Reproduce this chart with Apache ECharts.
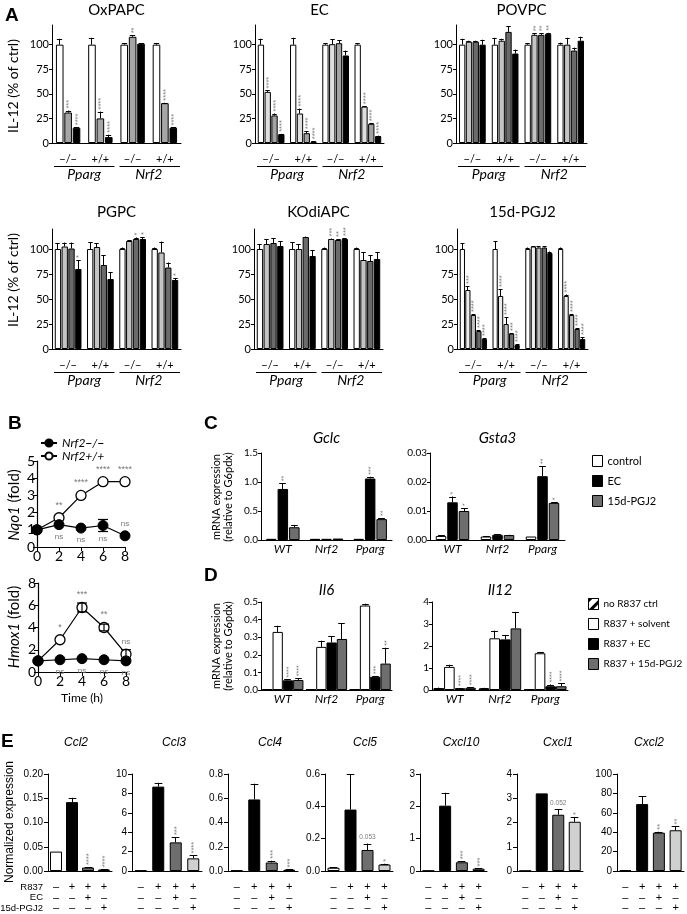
<!DOCTYPE html>
<html><head><meta charset="utf-8">
<script src="https://cdn.jsdelivr.net/npm/echarts@6/dist/echarts.min.js"></script>
<style>html,body{margin:0;padding:0;background:#fff}#c{width:687px;height:914px}</style>
</head><body><div id="c"></div>
<script>
// ================= DATA =================
// ---- Panel A (IL-12, % of ctrl) ----
const aGroups = ['−/−', '+/+', '−/−', '+/+'];
const aGenes = ['Pparg', 'Nrf2'];
const aTicks = [0, 25, 50, 75, 100];

const oxpapcValues = [[100, 100, 100, 100], [31, 25, 108, 40.5], [15.5, 6, 101, 15.5]];
const oxpapcErrors = [[6, 7, 1.5, 1.5], [2, 7, 1.5, 0.5], [0.5, 2.5, 0.5, 0.3]];
const oxpapcStars = [['', '', '', ''], ['***', '****', '**', '****'], ['****', '****', '', '****']];

const ecValues = [[100, 100, 100, 100], [52, 30, 100.5, 37], [28, 10, 101.5, 19.5], [9, 1.5, 89, 7]];
const ecErrors = [[6, 7, 1.5, 1.5], [1.5, 5, 5, 0.5], [2, 2, 3, 0.5], [0.3, 0.3, 5, 0.5]];
const ecStars = [['', '', '', ''], ['****', '****', '', '****'], ['****', '****', '', '****'], ['****', '****', '', '****']];

const povpcValues = [[100, 100, 100, 100], [103, 104, 110, 100], [103, 113, 110, 94], [100, 91, 111, 104]];
const povpcErrors = [[6, 7, 1.5, 2], [1, 2, 1.5, 7], [1, 6, 1.5, 3], [5, 4, 1, 4]];
const povpcStars = [['', '', '', ''], ['', '', '**', ''], ['', '', '**', ''], ['', '', '**', '']];

const pgpcValues = [[100, 100, 100, 100], [102.5, 102, 108, 96.5], [100.5, 84, 110, 81.5], [80, 70, 110, 69]];
const pgpcErrors = [[6, 7, 1.5, 1.5], [4, 4, 1, 11], [6, 10, 1.5, 5], [9, 7, 2, 2]];
const pgpcStars = [['', '', '', ''], ['', '', '', ''], ['', '', '*', ''], ['*', '', '*', '*']];

const kodiValues = [[100, 100, 100, 100], [105, 100, 110, 89], [106, 112, 109, 88], [103, 93, 110, 90]];
const kodiErrors = [[5, 7, 1.5, 1.5], [5, 5, 0.5, 8], [5, 0.5, 1, 6], [5, 6, 1, 7]];
const kodiStars = [['', '', '', ''], ['', '', '***', ''], ['', '', '**', ''], ['', '', '***', '']];

const pgj2Values = [[100, 100, 100, 100], [59, 53, 102.5, 53], [34, 25, 101.5, 34], [18, 15.5, 101.5, 20], [10, 4, 96, 10]];
const pgj2Errors = [[6, 8, 1.5, 1.5], [4, 7, 0.5, 1.5], [1, 7, 1.5, 1], [1, 0.5, 1.5, 1], [1, 1, 1.5, 2]];
const pgj2Stars = [['', '', '', ''], ['***', '****', '', '****'], ['****', '****', '', '****'], ['****', '***', '', '****'], ['****', '****', '', '****']];

// ---- Panel B (time course, fold) ----
const bTime = [0, 2, 4, 6, 8];
const nqo1KO = [1, 1.3, 1.1, 1.25, 0.65];
const nqo1KOErr = [0, 0, 0, 0.35, 0];
const nqo1WT = [1, 1.7, 3.0, 3.8, 3.8];
const nqo1WTErr = [0, 0, 0, 0, 0];
const nqo1WTStats = ['', '**', '****', '****', '****'];
const nqo1KOStats = ['', 'ns', 'ns', 'ns', 'ns'];
const hmox1KO = [1, 1.1, 1.2, 1.1, 1.0];
const hmox1KOErr = [0, 0, 0, 0, 0];
const hmox1WT = [1, 2.9, 5.8, 4.0, 1.6];
const hmox1WTErr = [0, 0, 0.4, 0.3, 0.4];
const hmox1WTStats = ['', '*', '***', '**', 'ns'];
const hmox1KOStats = ['', 'ns', 'ns', 'ns', 'ns'];

// ---- Panel C ----
const cGroups = ['WT', 'Nrf2', 'Pparg'];
const cNames = ['control', 'EC', '15d-PGJ2'];
const gclcValues = [[0.02, 0.02, 0.02], [0.88, 0.02, 1.06], [0.22, 0.025, 0.36]];
const gclcErrors = [[0, 0, 0], [0.1, 0, 0.03], [0.04, 0, 0.02]];
const gclcStars = [['', '', ''], ['**', '', '***'], ['', '', '**']];
const gsta3Values = [[0.0014, 0.0012, 0.0012], [0.013, 0.0018, 0.022], [0.010, 0.0017, 0.0128]];
const gsta3Errors = [[0.0002, 0.0002, 0], [0.002, 0.0001, 0.0035], [0.001, 0.0001, 0.0002]];
const gsta3Stars = [['', '', ''], ['*', '', '**'], ['*', '', '*']];

// ---- Panel D ----
const dNames = ['no R837 ctrl', 'R837 + solvent', 'R837 + EC', 'R837 + 15d-PGJ2'];
const il6Values = [[0.002, 0.002, 0.002], [0.33, 0.245, 0.48], [0.055, 0.27, 0.075], [0.057, 0.29, 0.15]];
const il6Errors = [[0, 0, 0], [0.035, 0.035, 0.01], [0.005, 0.035, 0.005], [0.01, 0.09, 0.09]];
const il6Stars = [['', '', ''], ['', '', ''], ['****', '', '***'], ['****', '', '**']];
const il12Values = [[0.08, 0.07, 0.03], [1.05, 2.35, 1.67], [0.08, 2.3, 0.17], [0.1, 2.8, 0.17]];
const il12Errors = [[0.03, 0.03, 0], [0.1, 0.35, 0.05], [0.01, 0.2, 0.08], [0.03, 0.75, 0.13]];
const il12Stars = [['', '', ''], ['', '', ''], ['****', '', '****'], ['****', '', '****']];

// ---- Panel E ----
const eR837 = ['–', '+', '+', '+'];
const eEC = ['–', '–', '+', '–'];
const ePGJ2 = ['–', '–', '–', '+'];
const eRowLabels = ['R837', 'EC', '15d-PGJ2'];
const ccl2 = [0.04, 0.142, 0.007, 0.003], ccl2Err = [0, 0.009, 0.001, 0.0005], ccl2Stars = ['', '', '****', '****'];
const ccl3 = [0.05, 8.7, 2.95, 1.3], ccl3Err = [0, 0.4, 0.55, 0.3], ccl3Stars = ['', '', '***', '****'];
const ccl4 = [0.005, 0.59, 0.07, 0.01], ccl4Err = [0, 0.13, 0.015, 0.003], ccl4Stars = ['', '', '***', '***'];
const ccl5 = [0.02, 0.38, 0.13, 0.04], ccl5Err = [0.002, 0.22, 0.04, 0.005], ccl5Stars = ['', '', '0.053', '*'];
const cxcl10 = [0.01, 2.02, 0.27, 0.07], cxcl10Err = [0, 0.4, 0.03, 0.01], cxcl10Stars = ['', '', '***', '***'];
const cxcl1 = [0.01, 3.2, 2.32, 2.03], cxcl1Err = [0, 0, 0.22, 0.2], cxcl1Stars = ['', '', '0.052', '*'];
const cxcl2 = [1, 69, 39.5, 42], cxcl2Err = [0, 8, 1, 4], cxcl2Stars = ['', '', '**', '**'];

// ================= BUILD =================
const FONT = 'Lato, "Liberation Sans", Arial, sans-serif';
const EFONT = '"Liberation Sans", Arial, sans-serif';
const grids = [], xAxes = [], yAxes = [], series = [], graphics = [], legends = [];

function gtext(x, y, text, o) {
  o = o || {};
  const st = {
    text: text, fill: o.color || '#000', fontSize: o.size || 12, fontFamily: o.family || FONT,
    fontStyle: o.style || 'normal', fontWeight: o.weight || 'normal',
    textAlign: o.align || 'center', textVerticalAlign: o.valign || 'middle',
    align: o.align || 'center', verticalAlign: o.valign || 'middle'
  };
  if (o.rich) st.rich = o.rich;
  if (o.lineHeight) st.lineHeight = o.lineHeight;
  return { type: 'text', x: x, y: y, rotation: o.rot || 0, silent: true, style: st };
}
function gline(x1, y1, x2, y2) {
  return { type: 'line', silent: true, shape: { x1: x1, y1: y1, x2: x2, y2: y2 }, style: { stroke: '#000', lineWidth: 1 } };
}

function errSeries(xi, yi, values, errors, stars, bw, gap, starSize, capRatio) {
  const n = values.length, items = [], data = [];
  values.forEach((vals, s) => vals.forEach((v, c) => {
    const e = errors && errors[s] ? errors[s][c] : 0;
    const st = stars && stars[s] ? stars[s][c] : '';
    if (!e && !st) return;
    items.push({ s, c, v, e, st });
    data.push([c, v + e]);
  }));
  const total = n * bw + (n - 1) * gap;
  return {
    type: 'custom', xAxisIndex: xi, yAxisIndex: yi, data: data, silent: true, z: 5, clip: false,
    renderItem: function (params, api) {
      const it = items[params.dataIndex];
      const p0 = api.coord([it.c, 0]);
      const cx0 = p0[0] - total / 2 + it.s * (bw + gap) + bw / 2;
      const cx = Math.round(cx0 - 0.5) + 0.5;
      const yv = api.coord([it.c, it.v])[1];
      const ye = api.coord([it.c, it.v + it.e])[1];
      const ch = [];
      if (it.e > 0) {
        const hw = Math.max(2, bw * capRatio);
        ch.push({ type: 'line', shape: { x1: cx, y1: yv, x2: cx, y2: ye }, style: { stroke: '#000', lineWidth: 1 } });
        ch.push({ type: 'line', shape: { x1: cx - hw, y1: Math.round(ye) + 0.5, x2: cx + hw, y2: Math.round(ye) + 0.5 }, style: { stroke: '#000', lineWidth: 1 } });
      }
      if (it.st) {
        if (/^\*+$/.test(it.st)) {
          ch.push({ type: 'text', x: cx0 + 1, y: ye - 2, rotation: Math.PI / 2,
            style: { text: it.st, x: 0, y: 0, textAlign: 'left', textVerticalAlign: 'middle', align: 'left', verticalAlign: 'middle', fill: '#7a7a7a', fontSize: starSize, fontFamily: EFONT } });
        } else {
          ch.push({ type: 'text', x: cx0, y: ye - 3,
            style: { text: it.st, x: 0, y: 0, textAlign: 'center', textVerticalAlign: 'bottom', align: 'center', verticalAlign: 'bottom', fill: '#7a7a7a', fontSize: 6.5, fontFamily: EFONT } });
        }
      }
      return { type: 'group', children: ch };
    }
  };
}

function addBars(cfg) {
  const r = cfg.rect;
  const gi = grids.push({ left: r[0], top: r[1], width: r[2], height: r[3] }) - 1;
  const xi = xAxes.push({
    type: 'category', gridIndex: gi, data: cfg.cats,
    axisLine: { lineStyle: { color: '#000', width: 1 } }, axisTick: { show: false },
    axisLabel: Object.assign({ color: '#000', interval: 0 }, cfg.xLabel)
  }) - 1;
  const yAxis = {
    type: 'value', gridIndex: gi, min: 0, max: cfg.yMax, splitLine: { show: false },
    axisLine: { show: true, lineStyle: { color: '#000', width: 1 } },
    axisTick: { show: true, length: cfg.tickLen || 3, lineStyle: { color: '#000' } },
    axisLabel: Object.assign({ color: '#000' }, cfg.yLabel)
  };
  if (cfg.yTicks) { yAxis.axisTick.customValues = cfg.yTicks; yAxis.axisLabel.customValues = cfg.yTicks; }
  else yAxis.interval = cfg.yInterval;
  if (cfg.yFmt) yAxis.axisLabel.formatter = cfg.yFmt;
  const yi = yAxes.push(yAxis) - 1;
  cfg.values.forEach((vals, s) => {
    const item = { color: cfg.colors[s], borderColor: '#000', borderWidth: 1 };
    if (cfg.decals && cfg.decals[s]) item.decal = cfg.decals[s];
    const data = cfg.itemColors
      ? vals.map((v, i) => ({ value: v, itemStyle: { color: cfg.itemColors[i] } }))
      : vals.slice();
    series.push({
      type: 'bar', name: cfg.names ? cfg.names[s] : ('bar' + gi + '_' + s), xAxisIndex: xi, yAxisIndex: yi,
      data: data, barWidth: cfg.bw, barGap: (cfg.gap / cfg.bw * 100).toFixed(1) + '%', itemStyle: item, silent: true
    });
  });
  series.push(errSeries(xi, yi, cfg.values, cfg.errors, cfg.stars, cfg.bw, cfg.gap, cfg.starSize || 8, cfg.capRatio || 0.32));
  if (cfg.title) graphics.push(gtext(cfg.titleX != null ? cfg.titleX : r[0] + r[2] / 2, cfg.titleY, cfg.title, cfg.titleStyle));
  return { gi, xi, yi };
}

// ---------- Panel A ----------
const AYL = { fontSize: 11, fontFamily: FONT, margin: 3 };
const AXL = { fontSize: 11, fontFamily: FONT, margin: 11 };
function panelA(rect, title, titleY, values, errors, stars, colors, bw, gap) {
  const res = addBars({
    rect, cats: aGroups, values, errors, stars, colors, bw, gap, yMax: 120, yTicks: aTicks,
    yLabel: AYL, xLabel: AXL, tickLen: 3, starSize: 7.5, capRatio: 0.35,
    title, titleY, titleStyle: { size: 15 }
  });
  xAxes.push({
    type: 'category', gridIndex: res.gi, data: aGenes, position: 'bottom', offset: 22,
    axisLine: { show: false }, axisTick: { show: false },
    axisLabel: { color: '#000', fontSize: 14, fontStyle: 'italic', fontFamily: FONT, margin: 2, interval: 0 }
  });
  const axisY = rect[1] + rect[3] + 23.5;
  const mid = rect[0] + rect[2] / 2;
  graphics.push(gline(rect[0] + 2, axisY, mid - 2, axisY));
  graphics.push(gline(mid + 3, axisY, rect[0] + rect[2] - 1, axisY));
}
const c3 = ['#ffffff', '#a6a6a6', '#000000'];
const cEC = ['#ffffff', '#dedede', '#a3a3a3', '#000000'];
const c4 = ['#ffffff', '#c4c4c4', '#6b6b6b', '#000000'];
const c5 = ['#ffffff', '#ededed', '#bdbdbd', '#6b6b6b', '#000000'];

panelA([52, 25, 129, 118], 'OxPAPC', 10, oxpapcValues, oxpapcErrors, oxpapcStars, c3, 7.6, 0.8);
panelA([255, 25, 129, 118], 'EC', 10, ecValues, ecErrors, ecStars, cEC, 6.3, 0.5);
panelA([456, 25, 131, 118], 'POVPC', 10, povpcValues, povpcErrors, povpcStars, c4, 6.3, 0.5);
panelA([52, 229, 129, 120], 'PGPC', 212, pgpcValues, pgpcErrors, pgpcStars, c4, 6.3, 0.5);
panelA([254, 229, 129, 120], 'KOdiAPC', 212, kodiValues, kodiErrors, kodiStars, c4, 6.3, 0.5);
panelA([457, 229, 131, 120], '15d-PGJ2', 212, pgj2Values, pgj2Errors, pgj2Stars, c5, 5.2, 0.3);

graphics.push(gtext(13, 86, 'IL-12 (% of ctrl)', { size: 14, rot: Math.PI / 2 }));
graphics.push(gtext(13, 280, 'IL-12 (% of ctrl)', { size: 14, rot: Math.PI / 2 }));

// ---------- Panel B ----------
function panelB(rect, yMax, yInt, ko, koErr, wt, wtErr, wtStats, koStats, koPlace) {
  const gi = grids.push({ left: rect[0], top: rect[1], width: rect[2], height: rect[3] }) - 1;
  const xi = xAxes.push({
    type: 'value', gridIndex: gi, min: 0, max: 8, interval: 2, splitLine: { show: false },
    axisLine: { lineStyle: { color: '#000', width: 1.2 } }, axisTick: { length: 4, lineStyle: { color: '#000' } },
    axisLabel: { color: '#000', fontSize: 14, fontFamily: FONT, margin: 2 }
  }) - 1;
  const yi = yAxes.push({
    type: 'value', gridIndex: gi, min: 0, max: yMax, interval: yInt, splitLine: { show: false },
    axisLine: { show: true, lineStyle: { color: '#000', width: 1.2 } }, axisTick: { length: 4, lineStyle: { color: '#000' } },
    axisLabel: { color: '#000', fontSize: 14, fontFamily: FONT, margin: 2 }
  }) - 1;
  series.push({
    type: 'line', name: 'Nrf2+/+', xAxisIndex: xi, yAxisIndex: yi, data: bTime.map((t, i) => [t, wt[i]]),
    symbol: 'circle', symbolSize: 10, itemStyle: { color: '#fff', borderColor: '#000', borderWidth: 1.3 },
    lineStyle: { color: '#000', width: 1.2 }, z: 3, silent: true
  });
  series.push({
    type: 'line', name: 'Nrf2−/−', xAxisIndex: xi, yAxisIndex: yi, data: bTime.map((t, i) => [t, ko[i]]),
    symbol: 'circle', symbolSize: 10, itemStyle: { color: '#000', borderColor: '#000', borderWidth: 1 },
    lineStyle: { color: '#000', width: 1.2 }, z: 4, silent: true
  });
  const items = [], data = [];
  bTime.forEach((t, i) => {
    items.push({ t, v: wt[i], e: wtErr[i], txt: wtStats[i], place: 'above' });
    data.push([t, wt[i]]);
    items.push({ t, v: ko[i], e: koErr[i], txt: koStats[i], place: koPlace[i] });
    data.push([t, ko[i]]);
  });
  series.push({
    type: 'custom', xAxisIndex: xi, yAxisIndex: yi, data: data, z: 6, silent: true, clip: false,
    renderItem: function (params, api) {
      const it = items[params.dataIndex];
      const p = api.coord([it.t, it.v]);
      const ch = [];
      let top = p[1] - 5, bot = p[1] + 5;
      if (it.e > 0) {
        const y1 = api.coord([it.t, it.v + it.e])[1], y2 = api.coord([it.t, it.v - it.e])[1];
        ch.push({ type: 'line', shape: { x1: p[0], y1: y1, x2: p[0], y2: y2 }, style: { stroke: '#000', lineWidth: 1.2 } });
        ch.push({ type: 'line', shape: { x1: p[0] - 5, y1: y1, x2: p[0] + 5, y2: y1 }, style: { stroke: '#000', lineWidth: 1.2 } });
        ch.push({ type: 'line', shape: { x1: p[0] - 5, y1: y2, x2: p[0] + 5, y2: y2 }, style: { stroke: '#000', lineWidth: 1.2 } });
        top = Math.min(top, y1); bot = Math.max(bot, y2);
      }
      if (it.txt) {
        const isNs = it.txt === 'ns';
        const y = it.place === 'above' ? top - 3 : bot + 3;
        ch.push({ type: 'text', x: p[0], y: y, style: { text: it.txt, textAlign: 'center', align: 'center',
          textVerticalAlign: it.place === 'above' ? 'bottom' : 'top', verticalAlign: it.place === 'above' ? 'bottom' : 'top',
          fill: '#777', fontSize: isNs ? 8 : 9, fontFamily: EFONT } });
      }
      return { type: 'group', children: ch };
    }
  });
}
panelB([37, 461, 88, 86], 5, 1, nqo1KO, nqo1KOErr, nqo1WT, nqo1WTErr, nqo1WTStats, nqo1KOStats, ['below', 'below', 'below', 'below', 'above']);
panelB([38, 583, 88, 89], 8, 2, hmox1KO, hmox1KOErr, hmox1WT, hmox1WTErr, hmox1WTStats, hmox1KOStats, ['below', 'below', 'below', 'below', 'below']);
legends.push({
  data: ['Nrf2−/−', 'Nrf2+/+'], orient: 'vertical', left: 40, top: 437, padding: 0, itemGap: 1,
  itemWidth: 16, itemHeight: 9, selectedMode: false,
  textStyle: { fontSize: 12, fontStyle: 'italic', fontFamily: FONT, color: '#000', lineHeight: 10 }
});
graphics.push(gtext(14, 505, '{i|Nqo1} (fold)', { size: 15, rot: Math.PI / 2, rich: { i: { fontStyle: 'italic', fontSize: 15, fontFamily: FONT } } }));
graphics.push(gtext(14, 627, '{i|Hmox1} (fold)', { size: 15, rot: Math.PI / 2, rich: { i: { fontStyle: 'italic', fontSize: 15, fontFamily: FONT } } }));
graphics.push(gtext(82, 698, 'Time (h)', { size: 12 }));

// ---------- Panels C & D ----------
const CYL = { fontSize: 10, fontFamily: FONT, margin: 3 };
const CXL = { fontSize: 12, fontFamily: FONT, fontStyle: 'italic', margin: 3 };
const titleCD = { size: 15, style: 'italic' };
addBars({ rect: [261, 453, 131, 87], cats: cGroups, names: cNames, values: gclcValues, errors: gclcErrors, stars: gclcStars,
  colors: ['#ffffff', '#000000', '#6e6e6e'], bw: 10.5, gap: 1, yMax: 1.5, yInterval: 0.5, yFmt: v => v.toFixed(1),
  yLabel: CYL, xLabel: CXL, starSize: 7, title: 'Gclc', titleY: 438, titleStyle: titleCD });
addBars({ rect: [430, 453, 135, 87], cats: cGroups, names: cNames, values: gsta3Values, errors: gsta3Errors, stars: gsta3Stars,
  colors: ['#ffffff', '#000000', '#6e6e6e'], bw: 10.5, gap: 1, yMax: 0.03, yInterval: 0.01, yFmt: v => v.toFixed(2),
  yLabel: CYL, xLabel: CXL, starSize: 7, title: 'Gsta3', titleY: 438, titleStyle: titleCD });
const hatch = { symbol: 'rect', symbolSize: 1, color: '#000', backgroundColor: '#fff', dashArrayX: [1, 0], dashArrayY: [3, 5], rotation: -Math.PI / 4 };
const dColors = ['#ffffff', '#ffffff', '#000000', '#6e6e6e'];
addBars({ rect: [261, 602, 131, 88], cats: cGroups, names: dNames, values: il6Values, errors: il6Errors, stars: il6Stars,
  colors: dColors, decals: [hatch], bw: 10.3, gap: 0, yMax: 0.5, yInterval: 0.1, yFmt: v => v.toFixed(1),
  yLabel: CYL, xLabel: CXL, starSize: 7, title: 'Il6', titleY: 590, titleStyle: titleCD });
addBars({ rect: [432, 602, 136, 88], cats: cGroups, names: dNames, values: il12Values, errors: il12Errors, stars: il12Stars,
  colors: dColors, decals: [hatch], bw: 10.6, gap: 0, yMax: 4, yInterval: 1,
  yLabel: CYL, xLabel: CXL, starSize: 7, title: 'Il12', titleY: 590, titleStyle: titleCD });
legends.push({
  data: cNames, orient: 'vertical', left: 592, top: 455, padding: 0, itemGap: 8, itemWidth: 10, itemHeight: 11,
  selectedMode: false, icon: 'rect', itemStyle: { borderColor: '#000', borderWidth: 1 },
  textStyle: { fontSize: 11, fontFamily: FONT, color: '#000', lineHeight: 12 }
});
legends.push({
  data: dNames, orient: 'vertical', left: 588, top: 598, padding: 0, itemGap: 8, itemWidth: 10, itemHeight: 11,
  selectedMode: false, icon: 'rect', itemStyle: { borderColor: '#000', borderWidth: 1 },
  textStyle: { fontSize: 10, fontFamily: FONT, color: '#000', lineHeight: 12 }
});
graphics.push(gtext(222, 497, 'mRNA expression\n(relative to G6pdx)', { size: 11, rot: Math.PI / 2, lineHeight: 12 }));
graphics.push(gtext(222, 646, 'mRNA expression\n(relative to G6pdx)', { size: 11, rot: Math.PI / 2, lineHeight: 12 }));

// ---------- Panel E ----------
const eCats = eR837.map((r, i) => [r, eEC[i], ePGJ2[i]].join('\n'));
const eColors = ['#ffffff', '#000000', '#6e6e6e', '#d0d0d0'];
const EYL = { fontSize: 10, fontFamily: EFONT, margin: 5 };
const EXL = { fontSize: 11, fontFamily: EFONT, margin: 11, lineHeight: 10.5 };
const ePanels = [
  { t: 'Ccl2', v: ccl2, e: ccl2Err, s: ccl2Stars, rect: [48, 774, 64, 97], max: 0.2, int: 0.05, fmt: v => v.toFixed(2), tx: 76 },
  { t: 'Ccl3', v: ccl3, e: ccl3Err, s: ccl3Stars, rect: [132, 774, 70, 97], max: 10, int: 2, fmt: null, tx: 174 },
  { t: 'Ccl4', v: ccl4, e: ccl4Err, s: ccl4Stars, rect: [228, 774, 70, 97], max: 0.8, int: 0.2, fmt: v => v.toFixed(1), tx: 270 },
  { t: 'Ccl5', v: ccl5, e: ccl5Err, s: ccl5Stars, rect: [325, 774, 68, 97], max: 0.6, int: 0.2, fmt: v => v.toFixed(1), tx: 365 },
  { t: 'Cxcl10', v: cxcl10, e: cxcl10Err, s: cxcl10Stars, rect: [420, 774, 67, 97], max: 3, int: 1, fmt: null, tx: 461 },
  { t: 'Cxcl1', v: cxcl1, e: cxcl1Err, s: cxcl1Stars, rect: [517, 774, 66, 97], max: 4, int: 1, fmt: null, tx: 558 },
  { t: 'Cxcl2', v: cxcl2, e: cxcl2Err, s: cxcl2Stars, rect: [617, 774, 67, 97], max: 100, int: 20, fmt: null, tx: 649 }
];
ePanels.forEach(p => {
  addBars({ rect: p.rect, cats: eCats, names: ['E_' + p.t], values: [p.v], errors: [p.e], stars: [p.s],
    colors: ['#000'], itemColors: eColors, bw: 12, gap: 0, yMax: p.max, yInterval: p.int, yFmt: p.fmt,
    yLabel: EYL, xLabel: EXL, tickLen: 4, starSize: 7.5, capRatio: 0.32,
    title: p.t, titleX: p.tx, titleY: 743, titleStyle: { size: 12, style: 'italic', family: EFONT } });
});
eRowLabels.forEach((lab, i) => graphics.push(gtext(43, 887 + i * 10.5, lab, { size: 9.5, align: 'right', family: EFONT })));
graphics.push(gtext(10, 822, 'Normalized expression', { size: 12, rot: Math.PI / 2, family: EFONT }));

// ---------- Panel letters ----------
[['A', 5, 16], ['B', 8, 424], ['C', 204, 424], ['D', 204, 576], ['E', 1, 742]].forEach(l =>
  graphics.push(gtext(l[1], l[2], l[0], { size: 19, weight: 'bold', align: 'left', family: EFONT })));

const chart = echarts.init(document.getElementById('c'), null, { renderer: 'canvas', width: 687, height: 914 });
chart.setOption({
  animation: false, backgroundColor: '#ffffff',
  grid: grids, xAxis: xAxes, yAxis: yAxes, series: series, legend: legends, graphic: graphics
});
</script>
</body></html>
